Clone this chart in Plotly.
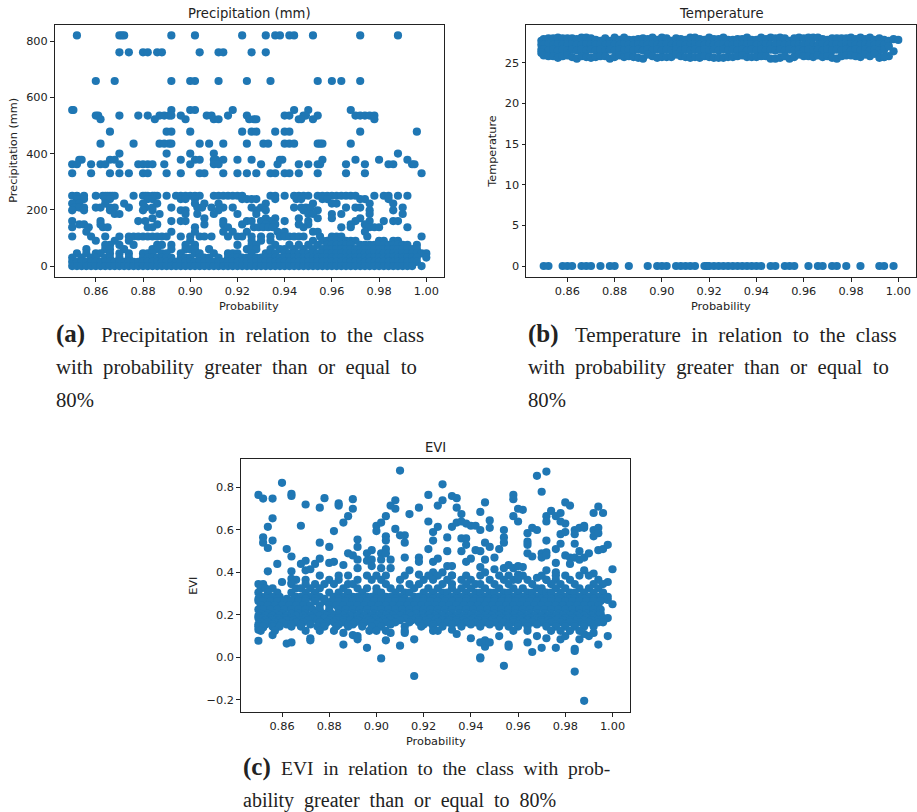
import plotly.graph_objects as go

BLUE = "#1f77b4"
W, H = 917, 812

# ---------- Panel (a): probability values at each precipitation level ----------
p_820 = [.852,.870,.871,.872,.892,.902,.922,.932,.936,.938,.942,.944,.952,.972,.988]
p_760 = [.870,.874,.880,.882,.886,.888,.904,.912,.914,.926,.932]
p_658 = [.860,.868,.892,.900,.902,.912,.924,.934,.954,.960,.964,.972]
p_555 = [.850,.8505,.892,.900,.902,.918,.944,.950,.968]
p_535 = [.860,.861,.870,.878,.882,.887,.889,.891,.892,.896,.907,.909,.916,.924,.940,.942,.948,.949,.954,.970,.972,.974,.976,.978]
p_522 = [.862,.885,.898,.910,.912,.925,.927,.928,.946,.947,.952,.978]
p_478 = [.866,.890,.892,.900,.922,.926,.928,.936,.940,.942,.972,.996]
p_435 = [.862,.876,.887,.889,.891,.892,.904,.908,.914,.924,.931,.933,.940,.942,.944,.954,.955,.956,.968]
p_400 = [.870,.890,.900,.910,.988]
p_378 = [.853,.854,.866,.868,.896,.902,.904,.910,.911,.914,.920,.926,.938,.939,.956,.970,.980,.992]
p_362 = [.850,.852,.858,.862,.864,.870,.878,.880,.882,.884,.889,.900,.910,.912,.930,.937,.946,.950,.954,.955,.966,.974,.984,.986,.994,.995]
p_330 = [.850,.858,.866,.870,.874,.880,.882,.890,.896,.904,.906,.914,.920,.924,.928,.934,.936,.940,.942,.946,.954,.966,.974,.998]
p_250 = [.850,.852,.855,.860,.863,.864,.865,.866,.867,.868,.876,.880,.881,.882,.884,.885,.886,.890,.894,.896,.898,.900,.902,.904,.910,.912,.914,.916,.918,.920,.922,.934,.936,.940,.944,.946,.948,.950,.954,.956,.958,.960,.962,.964,.966,.968,.970,.978,.982,.984,.988,.992]
p_238 = [.852,.855,.864,.866,.882,.884,.896,.898,.902,.922,.924,.926,.928,.936,.945,.947,.956,.958,.972,.974,.984]
p_222 = [.850,.853,.864,.872,.880,.886,.902,.906,.912,.932,.952,.960,.962,.976,.986]
p_208 = [.851,.853,.855,.860,.862,.866,.868,.874,.881,.884,.892,.903,.905,.909,.914,.918,.926,.930,.944,.947,.949,.951,.966,.970,.972,.990]
p_198 = [.850,.855,.866,.880,.884,.896,.898,.912,.928,.932,.948,.954,.976,.986]
p_185 = [.868,.870,.887,.898,.903,.910,.920,.928,.950,.952,.960,.964,.976,.990]
p_170 = [.884,.906,.932,.936,.946,.954,.972,.960]
p_160 = [.850,.862,.878,.881,.892,.896,.898,.914,.924,.926,.930,.934,.940,.950,.970,.976,.982,.986,.988]
p_148 = [.853,.855,.862,.886,.906,.914,.922,.932,.936,.946,.950,.968,.974]
p_138 = [.850,.857,.863,.865,.882,.884,.902,.916,.927,.929,.931,.933,.935,.948,.964,.968,.976,.978,.980,.992]
p_122 = [.856,.892,.902,.914,.918,.924,.937,.940,.952,.954,.974]
p_105 = [.850,.858,.864,.870,.874,.876,.878,.880,.882,.884,.886,.888,.890,.896,.900,.904,.906,.909,.916,.920,.922,.926,.930,.934,.938,.940,.942,.944,.946,.948,.955,.960,.962,.964,.975,.998]
p_90 = [.860,.868,.874,.900,.926,.930,.934,.952,.956,.958,.960,.962,.964,.966,.968,.970,.980,.982,.986,.988]
p_75 = [.864,.866,.870,.876,.886,.888,.892,.898,.902,.920,.926,.928,.936,.942,.946,.950,.954,.958,.960,.962,.964,.966,.968,.972,.974,.976,.978,.980,.982,.984,.986,.988,.990,.992,.996]
p_60 = [.856,.864,.866,.872,.884,.886,.892,.898,.900,.902,.908,.924,.926,.928,.934,.938,.940,.944,.948,.952,.956,.958,.960,.962,.964,.966,.968,.970,.972,.974,.976,.978,.980,.982,.984,.986,.988,.990,.992,.994,.996]
p_45 = [.852,.856,.860,.862,.866,.870,.874,.880,.882,.884,.888,.890,.896,.902,.904,.910,.916,.918,.920,.926,.932,.934,.936,.940,.942,.944,.946,.948,.950,.952,.954,.956,.958,.960,.962,.964,.966,.968,.970,.972,.974,.976,.978,.980,.982,.984,.986,.988,.990,.992,.994,.996,.998,1.000]
p_30 = [.850,.854,.858,.860,.864,.866,.870,.874,.880,.882,.884,.886,.888,.890,.892,.896,.898,.900,.904,.906,.908,.912,.916,.918,.920,.922,.924,.926,.928,.930,.932,.934,.936,.938,.940,.942,.944,.946,.948,.950,.952,.954,.956,.958,.960,.962,.964,.966,.968,.970,.972,.974,.976,.978,.980,.982,.984,.986,.988,.990,.992,.994,.996,1.000]
p_15 = [.850,.852,.854,.856,.858,.860,.862,.864,.866,.868,.870,.872,.874,.876,.878,.880,.882,.884,.886,.888,.890,.892,.894,.896,.898,.900,.902,.904,.906,.908,.910,.912,.914,.916,.918,.920,.922,.924,.926,.928,.930,.932,.934,.936,.938,.940,.942,.944,.946,.948,.950,.952,.954,.956,.958,.960,.962,.964,.966,.968,.970,.972,.974,.976,.978,.980,.982,.984,.986,.988,.990,.992,.994,.996]
p_0 = [.850,.852,.854,.856,.858,.860,.862,.864,.866,.868,.870,.872,.874,.876,.878,.880,.882,.884,.886,.888,.890,.892,.894,.896,.898,.900,.902,.904,.906,.908,.910,.912,.914,.916,.918,.920,.922,.924,.926,.928,.930,.932,.934,.936,.938,.940,.942,.944,.946,.948,.950,.952,.954,.956,.958,.960,.962,.964,.966,.968,.970,.972,.974,.976,.978,.980,.982,.984,.986,.988,.990,.992,.994,.998]
precip_rows = [(820,p_820),(760,p_760),(658,p_658),(555,p_555),(535,p_535),(522,p_522),(478,p_478),
               (435,p_435),(400,p_400),(378,p_378),(362,p_362),(330,p_330),(250,p_250),(238,p_238),
               (222,p_222),(208,p_208),(198,p_198),(185,p_185),(170,p_170),(160,p_160),(148,p_148),
               (138,p_138),(122,p_122),(105,p_105),(90,p_90),(75,p_75),(60,p_60),(45,p_45),(30,p_30),
               (15,p_15),(0,p_0)]

# ---------- Panel (b) ----------
t_x = [.849,.850,.852,.854,.856,.858,.860,.862,.864,.866,.868,.870,.872,.874,.876,.878,.880,.882,.884,.886,.888,.890,.892,.894,.896,.898,.900,.902,.904,.906,.908,.910,.912,.914,.916,.918,.920,.922,.924,.926,.928,.930,.932,.934,.936,.938,.940,.942,.944,.946,.948,.950,.952,.954,.956,.958,.960,.962,.964,.966,.968,.970,.972,.974,.976,.978,.980,.982,.984,.986,.988,.990,.992,.994]
t_top = [27.7,27.9,28.0,28.0,28.1,28.0,28.0,28.0,27.9,28.1,28.1,28.0,27.8,27.7,28.0,27.7,28.1,27.8,28.1,27.8,27.8,27.9,28.0,27.9,28.1,27.8,28.1,28.0,27.7,28.0,27.9,27.8,28.1,28.1,27.9,27.8,28.1,27.9,27.9,28.1,27.8,27.8,27.9,27.9,28.1,27.8,27.8,28.1,27.9,28.1,28.0,28.1,28.0,27.7,28.0,28.1,28.0,28.1,28.1,28.1,27.9,27.8,28.0,28.0,28.0,28.0,28.1,27.9,28.1,27.9,28.1,27.8,28.0,27.8]
t_mid1 = [27.2,27.2,27.3,27.2,27.3,27.2,27.2,27.3,27.2,27.2,27.3,27.2,27.2,27.3,27.2,27.3,27.2,27.2,27.3,27.2,27.2,27.3,27.2,27.2,27.3,27.2,27.2,27.3,27.2,27.2,27.3,27.2,27.2,27.3,27.2,27.2,27.3,27.2,27.2,27.3,27.2,27.2,27.3,27.2,27.2,27.3,27.2,27.2,27.3,27.2,27.2,27.3,27.2,27.2,27.3,27.2,27.2,27.3,27.2,27.2,27.3,27.2,27.2,27.3,27.2,27.2,27.3,27.2,27.2,27.3,27.2,27.2,27.3,27.2]
t_mid2 = [26.6,26.6,26.5,26.6,26.5,26.6,26.5,26.6,26.5,26.6,26.5,26.6,26.5,26.6,26.5,26.6,26.5,26.6,26.5,26.6,26.5,26.6,26.5,26.6,26.5,26.6,26.5,26.6,26.5,26.6,26.5,26.6,26.5,26.6,26.5,26.6,26.5,26.6,26.5,26.6,26.5,26.6,26.5,26.6,26.5,26.6,26.5,26.6,26.5,26.6,26.5,26.6,26.5,26.6,26.5,26.6,26.5,26.6,26.5,26.6,26.5,26.6,26.5,26.6,26.5,26.6,26.5,26.6,26.5,26.6,26.5,26.6,26.5,26.6]
t_low = [26.2,25.9,25.8,25.8,25.6,25.8,25.9,25.7,25.5,25.8,25.7,25.6,25.7,25.8,25.8,25.5,25.7,25.9,25.7,25.8,25.7,25.6,25.5,26.0,25.8,25.6,25.7,25.7,25.7,26.0,25.8,25.7,25.6,25.7,25.6,25.8,25.7,25.6,25.6,25.6,25.7,25.7,25.8,25.9,25.7,25.7,25.7,25.8,25.8,25.5,25.5,25.6,25.8,25.5,25.7,26.0,25.8,25.8,25.7,25.9,25.7,25.8,25.6,25.5,25.8,25.9,25.9,25.8,25.7,26.0,25.8,26.1,25.6,25.7]
t_tail_x = [.996,.998,1.000,.996,.998,.996,.994]
t_tail_y = [27.7,27.9,27.8,27.0,26.4,25.8,25.7]
t_zero = [.850,.852,.858,.860,.862,.866,.868,.870,.874,.878,.880,.886,.894,.898,.900,.902,.906,.908,.910,.912,.914,.918,.919,.920,.922,.924,.926,.928,.930,.932,.934,.936,.938,.940,.942,.946,.948,.952,.954,.956,.962,.966,.968,.972,.974,.978,.984,.992,.994,.998]

# ---------- Panel (c) ----------
e_up_x = [.85,.852,.856,.86,.864,.864,.87,.876,.878,.884,.884,.89,.89,.888,.886,.882,.868,.856,.854,.852,.852,.856,.854,.862,.864,.858,.854,.86,.864,.864,.864,.868,.87,.87,.872,.874,.876,.876,.88,.88,.882,.886,.888,.89,.892,.892,.892,.892,.896,.898,.896,.898,.898,.90,.90,.902,.902,.902,.902,.904,.904,.904,.904,.904,.906,.906,.906,.908,.908,.908,.91,.91,.912,.912,.912,.914,.914,.918,.918,.918,.918,.922,.922,.922,.924,.924,.924,.924,.926,.926,.926,.928,.928,.928,.93,.93,.93,.932,.932,.932,.932,.934,.934,.934,.936,.936,.936,.936,.938,.938,.938,.938,.94,.94,.942,.942,.944,.944,.944,.944,.946,.946,.946,.946,.948,.948,.948,.95,.95,.952,.954,.954,.954,.954,.956,.958,.958,.958,.958,.96,.96,.96,.96,.962,.962,.964,.964,.964,.964,.966,.966,.968,.968,.968,.97,.97,.97,.972,.972,.972,.972,.972,.972,.972,.972,.974,.976,.976,.976,.976,.978,.978,.978,.978,.98,.98,.98,.98,.982,.982,.982,.984,.984,.984,.984,.986,.986,.986,.988,.988,.988,.988,.99,.992,.992,.992,.992,.994,.994,.994,.994,.996,.996,.998,.998,1.0,1.0,.998]
e_up_y = [.765,.748,.748,.822,.77,.76,.72,.705,.75,.725,.715,.745,.70,.665,.635,.595,.62,.655,.615,.565,.54,.55,.515,.51,.475,.44,.405,.355,.405,.37,.35,.44,.455,.41,.415,.44,.54,.465,.52,.445,.45,.435,.49,.48,.555,.52,.46,.42,.49,.505,.455,.46,.43,.62,.595,.635,.49,.46,.42,.665,.57,.55,.51,.49,.46,.42,.715,.74,.70,.605,.88,.575,.575,.54,.47,.41,.675,.705,.47,.45,.39,.765,.64,.51,.59,.55,.45,.40,.715,.615,.465,.815,.74,.40,.565,.50,.43,.76,.615,.43,.385,.75,.705,.635,.675,.64,.56,.50,.63,.56,.53,.45,.62,.465,.62,.505,.685,.60,.50,.425,.73,.54,.46,.40,.645,.61,.52,.47,.415,.51,.60,.565,.54,.42,.435,.765,.745,.665,.42,.70,.64,.43,.39,.695,.425,.585,.545,.53,.49,.61,.475,.60,.375,.855,.78,.49,.47,.875,.665,.64,.55,.495,.48,.41,.365,.69,.665,.51,.445,.40,.68,.64,.58,.535,.73,.63,.59,.48,.715,.44,.47,.60,.58,.535,.47,.61,.50,.46,.62,.61,.47,.41,.49,.68,.60,.57,.395,.71,.61,.585,.505,.68,.51,.53,.355,.415,.25,.27]
e_lo_x = [.85,.862,.864,.872,.872,.886,.886,.89,.892,.892,.896,.902,.904,.906,.91,.912,.916,.916,.94,.944,.944,.944,.946,.946,.948,.952,.954,.956,.956,.964,.966,.968,.97,.976,.984,.984,.984,.986,.988,.988,.99,.992,.994,.998,.972,.978,.98,.934,.932,.856,.85,.852]
e_lo_y = [.078,.065,.07,.09,.08,.06,.115,.105,.085,.10,.045,-.005,.08,.115,.055,.115,.085,-.088,.09,.07,0.0,-.005,.05,.08,.07,.10,-.04,.06,.05,.07,.025,.10,.045,.045,.04,.03,-.067,.085,-.205,.11,.10,.115,.06,.10,.09,.085,.10,.11,.13,.105,.13,.14]
e_385 = [.876,.884,.888,.896,.900,.904,.912,.922,.926,.932,.938,.944,.952,.956,.962,.97,.976,.98,.986,.99]
e_365 = [.866,.87,.88,.884,.892,.898,.902,.91,.92,.924,.93,.936,.94,.948,.954,.958,.96,.964,.972,.976,.982,.994]
e_345 = [.85,.852,.864,.87,.874,.878,.882,.888,.89,.904,.914,.918,.928,.932,.938,.942,.944,.95,.956,.966,.974,.978,.984,.992,.996]
e_325 = [.851,.853,.856,.866,.868,.872,.876,.886,.892,.896,.90,.906,.91,.916,.922,.926,.932,.936,.94,.946,.952,.958,.962,.968,.97,.976,.98,.986,.99,.994]
e_305 = [.85,.854,.858,.864,.87,.874,.88,.884,.888,.894,.90,.902,.908,.912,.914,.92,.924,.928,.93,.934,.938,.942,.944,.948,.95,.954,.956,.96,.964,.966,.97,.972,.974,.978,.982,.984,.988,.992,.996]
e_285 = [.851,.853,.856,.859,.866,.868,.872,.876,.882,.886,.89,.892,.896,.898,.904,.906,.91,.916,.918,.922,.926,.932,.936,.94,.946,.952,.958,.962,.968,.976,.98,.986,.99,.994,.998]
e_275 = [.85,.854,.858,.862,.865,.87,.874,.878,.884,.888,.894,.9,.902,.908,.912,.92,.924,.928,.93,.934,.938,.942,.944,.948,.95,.954,.956,.96,.964,.966,.97,.972,.974,.978,.982,.984,.988,.992,.996]
e_265 = [.85,.852,.855,.858,.861,.864,.867,.87,.874,.878,.881,.884,.887,.89,.893,.896,.899,.902,.905,.908,.911,.914,.917,.92,.923,.926,.929,.932,.935,.938,.941,.944,.947,.95,.953,.956,.959,.962,.965,.968,.971,.974,.977,.98,.983,.986,.989,.992,.995]
e_245 = [.851,.854,.857,.86,.863,.866,.869,.872,.876,.88,.883,.886,.889,.892,.895,.898,.901,.904,.907,.91,.913,.916,.919,.922,.925,.928,.931,.934,.937,.94,.943,.946,.949,.952,.955,.958,.961,.964,.967,.97,.973,.976,.979,.982,.985,.988,.991,.994]
e_225 = [.85,.852,.855,.858,.861,.864,.867,.87,.873,.876,.88,.884,.887,.89,.893,.896,.899,.902,.905,.908,.911,.914,.917,.92,.923,.926,.929,.932,.935,.938,.941,.944,.947,.95,.953,.956,.959,.962,.965,.968,.971,.974,.977,.98,.983,.986,.989,.992,.995]
e_205 = [.851,.854,.857,.86,.864,.867,.87,.874,.878,.881,.884,.887,.89,.893,.896,.899,.902,.905,.908,.911,.914,.917,.92,.923,.926,.929,.932,.935,.938,.941,.944,.947,.95,.953,.956,.959,.962,.965,.968,.971,.974,.977,.98,.983,.986,.989,.992,.995]
e_195 = [.85,.853,.856,.859,.862,.866,.869,.872,.876,.879,.882,.886,.889,.892,.895,.898,.901,.904,.907,.91,.915,.919,.922,.925,.928,.931,.934,.937,.94,.943,.946,.949,.952,.955,.958,.961,.964,.967,.97,.973,.976,.979,.982,.985,.988,.991,.994]
e_185 = [.85,.852,.855,.858,.861,.864,.87,.873,.878,.881,.884,.887,.893,.896,.899,.902,.905,.908,.912,.917,.92,.923,.926,.929,.932,.935,.938,.941,.944,.947,.95,.953,.956,.959,.962,.965,.968,.971,.974,.977,.98,.983,.986,.989,.992,.996,.998]
e_175 = [.853,.856,.859,.862,.865,.868,.871,.875,.88,.883,.886,.889,.892,.897,.9,.903,.906,.91,.915,.918,.921,.925,.928,.931,.934,.937,.94,.943,.946,.949,.952,.955,.958,.961,.964,.967,.97,.973,.976,.979,.982,.985,.988,.991,.994]
e_165 = [.851,.854,.857,.86,.866,.869,.876,.879,.882,.886,.891,.895,.898,.901,.904,.908,.914,.918,.922,.926,.93,.934,.938,.942,.946,.95,.954,.958,.962,.966,.97,.974,.978,.982,.986,.99,.994,.996]
e_155 = [.85,.853,.856,.862,.864,.868,.872,.878,.884,.888,.89,.894,.9,.906,.92,.924,.932,.936,.94,.944,.948,.956,.96,.964,.968,.972,.976,.98,.984,.988,.992]
e_145 = [.85,.852,.856,.859,.864,.868,.875,.878,.883,.888,.894,.898,.902,.912,.919,.924,.928,.936,.944,.952,.956,.96,.964,.972,.976,.98,.984,.988,.992]
e_125 = [.851,.857,.87,.876,.882,.897,.9,.904,.912,.924,.926,.964,.958,.974,.978,.982,.986]
e_rows = [(.385,e_385),(.365,e_365),(.345,e_345),(.325,e_325),(.305,e_305),(.285,e_285),(.275,e_275),
          (.265,e_265),(.245,e_245),(.225,e_225),(.205,e_205),(.195,e_195),(.185,e_185),(.175,e_175),
          (.165,e_165),(.155,e_155),(.145,e_145),(.125,e_125)]

# ---------- Shared labels ----------
prob_ticks = [.86,.88,.90,.92,.94,.96,.98,1.00]
panel_titles = ["Precipitation (mm)", "Temperature", "EVI"]
y_titles = ["Precipitation (mm)", "Temperature", "EVI"]
x_title = "Probability"
caption_marks = [(54, 335, "(a)"), (526, 335, "(b)"), (241, 768, "(c)")]
captions = [
    (99, 335, 21, "Precipitation\u2002in\u2002relation\u2002to\u2002the\u2002class"),
    (54, 367, 20.7, "with\u2002probability\u2002greater\u2002than\u2002or\u2002equal\u2002to"),
    (54, 400, 20.7, "80%"),
    (573, 335, 21, "Temperature\u2002in\u2002relation\u2002to\u2002the\u2002class"),
    (526, 367, 20.7, "with\u2002probability\u2002greater\u2002than\u2002or\u2002equal\u2002to"),
    (526, 400, 20.7, "80%"),
    (279, 768, 19.5, "EVI\u2002in\u2002relation\u2002to\u2002the\u2002class\u2002with\u2002prob-"),
    (241, 800, 20, "ability\u2002greater\u2002than\u2002or\u2002equal\u2002to\u200280%"),
]

# ---------- Assemble ----------
px, py = [], []
for level, xs in precip_rows:
    px += xs
    py += [level] * len(xs)

tx = t_x * 4 + t_tail_x + t_zero
ty = t_top + t_mid1 + t_mid2 + t_low + t_tail_y + [0] * len(t_zero)

ex, ey = list(e_up_x) + list(e_lo_x), list(e_up_y) + list(e_lo_y)
for level, xs in e_rows:
    ex += xs
    ey += [level] * len(xs)

boxes = [
    dict(box=(54.5,444,24.5,277), xr=(.8425,1.0075), yr=(-39,859), yt=[0,200,400,600,800], fmt="d", xc=249, ytx=14),
    dict(box=(526,916,24.5,277), xr=(.8425,1.0075), yr=(-1.35,29.7), yt=[0,5,10,15,20,25], fmt="d", xc=721, ytx=493),
    dict(box=(240.7,630.2,459.3,712.3), xr=(.8425,1.0075), yr=(-.259,.933), yt=[-.2,0,.2,.4,.6,.8], fmt=".1f", xc=435.7, ytx=194),
]
series = [(px,py),(tx,ty),(ex,ey)]

fig = go.Figure()
FONT = "DejaVu Sans"
TICK = 11.3
annots = []
for i, (b, (xs, ys)) in enumerate(zip(boxes, series)):
    s = "" if i == 0 else str(i + 1)
    l, r, t, bt = b["box"]
    fig.add_trace(go.Scatter(x=xs, y=ys, mode="markers", xaxis="x"+s, yaxis="y"+s,
                             marker=dict(color=BLUE, size=8.2, line=dict(width=0)),
                             showlegend=False, hoverinfo="skip"))
    common = dict(showgrid=False, zeroline=False, showline=True, mirror=True, linecolor="#222",
                  linewidth=1, ticks="outside", ticklen=3.5, tickwidth=0.8, tickcolor="#222",
                  tickfont=dict(family=FONT, size=TICK, color="#222"))
    fig.layout["xaxis"+s] = go.layout.XAxis(domain=[l/W, r/W], range=list(b["xr"]), anchor="y"+s,
                                            tickvals=prob_ticks, tickformat=".2f", **common)
    fig.layout["yaxis"+s] = go.layout.YAxis(domain=[1-bt/H, 1-t/H], range=list(b["yr"]), anchor="x"+s,
                                            tickvals=b["yt"], tickformat=b["fmt"], **common)
    annots.append(dict(text=panel_titles[i], x=b["xc"]/W, y=1-(t-11.5)/H, xanchor="center", yanchor="middle",
                       font=dict(family=FONT, size=13.2, color="#222")))
    annots.append(dict(text=x_title, x=b["xc"]/W, y=1-(bt+29.5)/H, xanchor="center", yanchor="middle",
                       font=dict(family=FONT, size=TICK, color="#222")))
    annots.append(dict(text=y_titles[i], x=b["ytx"]/W, y=1-((t+bt)/2)/H, xanchor="center", yanchor="middle",
                       textangle=-90, font=dict(family=FONT, size=TICK, color="#222")))
for cx, cy, txt in caption_marks:
    annots.append(dict(text="<b>"+txt+"</b>", x=cx/W, y=1-(cy-1)/H, xanchor="left", yanchor="middle", align="left",
                       font=dict(family="Liberation Serif", size=25, color="#222")))
for cx, cy, size, txt in captions:
    annots.append(dict(text=txt, x=cx/W, y=1-cy/H, xanchor="left", yanchor="middle", align="left",
                       font=dict(family="Liberation Serif", size=size, color="#222")))
for a in annots:
    a.update(xref="paper", yref="paper", showarrow=False)

fig.update_layout(width=W, height=H, margin=dict(l=0, r=0, t=0, b=0), autosize=False,
                  paper_bgcolor="white", plot_bgcolor="white", annotations=annots)
fig.write_html("out.html", config={"displayModeBar": False}, post_script="document.body.style.margin='0';")
